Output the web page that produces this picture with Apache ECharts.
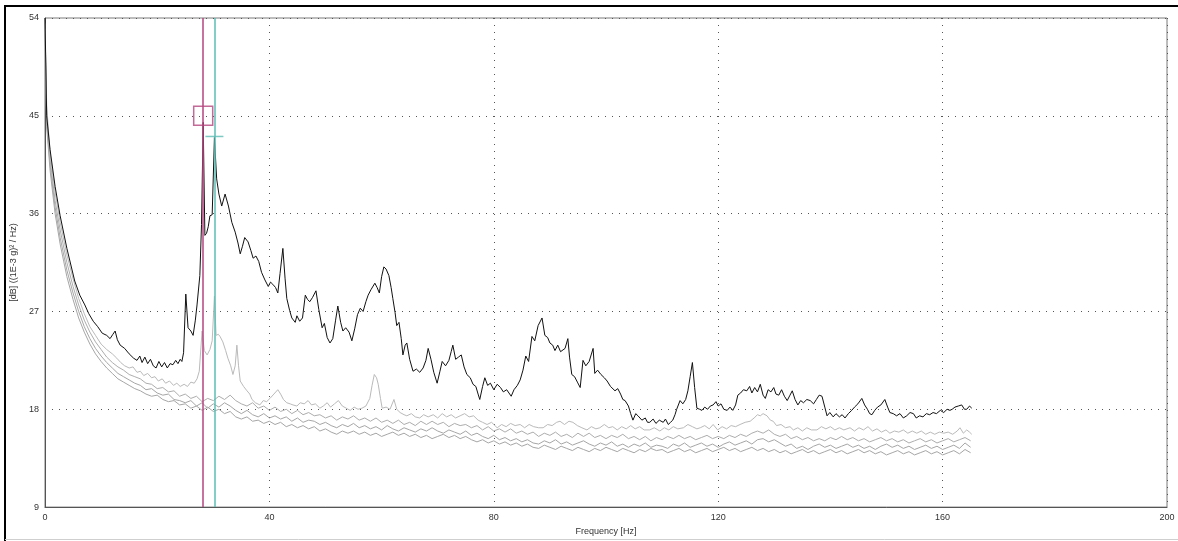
<!DOCTYPE html>
<html>
<head>
<meta charset="utf-8">
<script src="https://cdn.jsdelivr.net/npm/echarts@6/dist/echarts.min.js"></script>
<style>
  html, body { margin: 0; padding: 0; background: #fff; }
  #chart { width: 1178px; height: 541px; }
</style>
</head>
<body>
<div id="chart"></div>
<script>
// Power spectral density traces, [frequency Hz, level dB]
const activeTrace = [
  [0,54],[0.3,45],[0.9,41.9],[1.8,38.5],[2.7,35.8],[3.9,32.8],[5.3,29.8],[6.2,28.5],[7.1,27.6],[7.8,26.8],
  [8.6,26.1],[9.4,25.6],[10.2,25.0],[11.0,24.8],[11.6,24.5],[12.1,24.9],[12.5,25.2],[12.9,24.4],[13.4,23.9],[14.2,23.6],
  [15.0,23.1],[15.8,22.7],[16.4,22.5],[16.9,22.9],[17.3,22.3],[17.8,22.8],[18.3,22.2],[18.8,22.6],[19.3,22.0],[19.8,21.8],
  [20.3,22.4],[20.8,21.9],[21.3,22.3],[21.8,21.8],[22.3,22.2],[22.8,22.1],[23.3,22.5],[23.7,22.2],[24.1,22.6],[24.4,22.4],
  [24.7,23.2],[25.1,28.6],[25.5,25.5],[26.0,25.2],[26.4,24.8],[26.8,26.2],[27.1,27.6],[27.6,30.3],[27.9,35.0],[28.2,44.4],
  [28.5,34.0],[28.8,34.2],[29.1,34.8],[29.4,35.8],[29.8,35.9],[30.2,43.0],[30.6,39.2],[31.0,37.8],[31.5,36.7],[32.1,37.8],
  [32.7,36.7],[33.3,35.2],[33.9,34.3],[34.4,33.3],[34.8,32.3],[35.2,33.0],[35.6,33.8],[36.2,33.4],[36.7,32.6],[37.1,31.9],
  [37.6,32.1],[38.1,31.6],[38.6,30.6],[39.2,29.9],[39.8,29.3],[40.2,29.7],[40.6,29.5],[41.1,29.2],[41.5,28.7],[41.9,30.5],
  [42.4,32.8],[42.8,30.0],[43.1,28.2],[43.6,27.1],[44.0,26.4],[44.6,26.0],[44.9,26.6],[45.4,26.1],[45.9,26.4],[46.4,28.5],
  [46.8,28.1],[47.2,27.9],[47.7,28.3],[48.3,28.9],[48.8,27.2],[49.4,25.5],[49.8,25.9],[50.3,24.6],[50.8,24.1],[51.3,24.5],
  [51.8,26.2],[52.2,27.5],[52.7,26.0],[53.1,25.2],[53.6,25.5],[54.2,25.1],[54.7,24.3],[55.2,25.4],[55.7,26.7],[56.2,27.3],
  [56.7,27.0],[57.2,27.9],[57.6,28.5],[58.1,29.0],[58.8,29.6],[59.2,29.2],[59.6,28.7],[60.0,30.2],[60.4,31.1],[60.8,30.9],
  [61.3,30.3],[61.7,29.2],[62.0,28.2],[62.4,26.9],[62.7,25.7],[63.1,26.0],[63.5,24.5],[63.8,23.0],[64.2,23.9],[64.5,24.1],
  [65.0,22.6],[65.6,21.5],[66.2,21.7],[66.8,21.4],[67.4,21.8],[67.9,22.5],[68.3,23.6],[68.8,22.6],[69.3,21.4],[69.9,20.4],
  [70.4,21.5],[70.8,22.4],[71.4,22.0],[72.0,22.5],[72.4,23.3],[72.7,23.9],[73.2,22.6],[73.7,22.8],[74.2,23.0],[74.7,21.9],
  [75.2,21.2],[75.8,20.9],[76.3,20.3],[76.8,20.1],[77.2,19.4],[77.5,18.9],[78.0,20.1],[78.4,20.9],[78.9,20.2],[79.4,20.4],
  [80.0,19.8],[80.6,20.3],[81.2,20.0],[81.7,19.6],[82.3,19.8],[83.1,19.2],[83.6,19.8],[84.2,20.2],[84.7,20.7],[85.2,21.6],
  [85.7,22.9],[86.2,22.4],[86.8,24.7],[87.3,24.3],[87.9,25.7],[88.6,26.4],[89.1,24.8],[89.6,24.6],[90.0,24.1],[90.5,23.9],
  [90.9,23.4],[91.4,23.9],[91.9,23.3],[92.7,23.6],[93.2,24.5],[93.5,22.8],[93.9,21.2],[94.4,21.0],[94.9,20.5],[95.4,20.0],
  [95.9,22.5],[96.4,22.0],[97.0,22.4],[97.7,23.6],[98.0,21.3],[98.5,21.6],[99.1,21.2],[99.7,20.9],[100.2,20.6],[100.8,20.1],
  [101.6,19.7],[102.1,19.9],[102.6,19.4],[103.0,18.9],[103.4,18.8],[104.0,18.3],[104.4,17.6],[104.8,17.0],[105.3,17.6],[105.7,17.4],
  [106.4,17.0],[107.0,17.2],[107.4,16.8],[107.8,16.8],[108.4,17.1],[108.9,16.7],[109.5,17.0],[110.2,16.8],[110.6,17.1],[111.1,16.6],
  [111.5,16.8],[111.9,17.0],[112.3,17.5],[112.6,18.0],[113.2,18.8],[113.7,18.5],[114.2,18.9],[114.6,19.7],[115.0,21.0],[115.4,22.3],
  [115.8,20.0],[116.2,18.1],[116.7,18.0],[117.1,17.9],[117.6,18.2],[118.1,18.0],[118.6,18.3],[119.1,18.4],[119.6,18.7],[120.0,18.3],
  [120.5,18.5],[121.0,18.0],[121.6,17.9],[122.1,18.2],[122.6,17.9],[123.1,18.4],[123.5,19.3],[124.0,19.5],[124.5,19.8],[125.1,19.7],
  [125.6,20.1],[126.0,19.5],[126.5,20.0],[127.0,19.6],[127.5,20.3],[128.0,19.3],[128.4,19.0],[128.9,19.8],[129.4,19.6],[129.9,20.0],
  [130.3,19.4],[130.8,19.3],[131.3,19.8],[131.8,19.2],[132.3,18.8],[132.8,19.3],[133.2,19.7],[133.7,18.9],[134.2,18.4],[134.7,18.8],
  [135.2,18.6],[135.8,18.9],[136.4,18.8],[137.0,18.5],[137.5,18.9],[138.0,19.3],[138.5,19.2],[139.0,18.2],[139.4,17.4],[139.9,17.7],
  [140.5,17.3],[141.0,17.6],[141.6,17.3],[142.1,17.5],[142.6,17.2],[143.2,17.6],[143.8,17.9],[144.3,18.2],[144.9,18.5],[145.6,19.0],
  [146.1,18.4],[146.6,18.0],[147.0,17.6],[147.4,17.5],[147.9,17.9],[148.4,18.2],[149.0,18.4],[149.7,18.9],[150.2,18.2],[150.6,17.7],
  [151.2,17.6],[151.8,17.4],[152.4,17.6],[153.0,17.2],[153.6,17.4],[154.2,17.7],[154.8,17.6],[155.3,17.2],[155.9,17.4],[156.5,17.3],
  [157.1,17.6],[157.7,17.5],[158.3,17.7],[158.9,17.6],[159.6,17.9],[160.2,17.7],[160.8,18.0],[161.3,17.9],[161.7,18.0],[162.2,18.2],
  [162.8,18.3],[163.4,18.4],[163.9,18.0],[164.3,18.0],[164.8,18.3],[165.2,18.1]
];

const refTraceA = [
  [0,53],[0.3,46],[0.9,41.5],[1.8,38],[2.7,35.2],[3.9,32.2],[5.0,30.0],[6.0,28.2],[7.0,26.8],[8.0,25.6],
  [9.0,24.8],[10.0,24.0],[11.0,23.5],[12.0,23.1],[12.8,22.7],[13.5,22.3],[14.2,22.0],[15.0,21.8],[15.7,21.9],[16.4,21.4],
  [17.0,21.5],[17.6,21.1],[18.3,21.3],[19.0,20.9],[19.6,21.0],[20.2,20.6],[20.9,20.8],[21.5,20.4],[22.2,20.6],[22.9,20.2],
  [23.5,20.4],[24.1,20.1],[24.8,20.3],[25.4,20.1],[26.0,20.5],[26.6,20.4],[27.1,20.8],[27.5,21.5],[28.0,25.2],[28.4,23.4],
  [28.9,23.0],[29.4,23.5],[29.8,24.3],[30.2,28.4],[30.5,24.8],[30.9,24.9],[31.2,24.7],[31.7,24.2],[32.2,23.4],[32.6,22.7],
  [33.1,22.0],[33.5,21.2],[33.9,22.0],[34.2,23.9],[34.5,22.0],[34.8,20.6],[35.4,20.1],[36.0,19.7],[36.5,19.4],[36.9,18.9],
  [37.5,18.6],[38.3,18.4],[38.9,18.8],[39.5,18.7],[40.1,19.0],[40.8,19.4],[41.5,19.8],[42.0,19.4],[42.5,18.9],[43.1,18.6],
  [43.7,18.5],[44.2,18.4],[44.9,18.3],[45.5,18.6],[46.2,18.5],[46.9,18.8],[47.5,18.4],[48.2,18.5],[49.0,18.1],[49.6,18.3],
  [50.3,18.6],[50.9,18.2],[51.6,18.5],[52.3,18.8],[53.0,18.3],[53.7,18.1],[54.4,17.9],[55.1,18.2],[55.8,18.0],[56.5,18.1],
  [57.2,18.3],[57.9,19.0],[58.3,20.2],[58.7,21.2],[59.1,20.9],[59.4,20.3],[59.8,19.0],[60.1,18.1],[60.8,18.2],[61.5,18.0],
  [62.2,18.9],[62.7,18.0],[63.3,17.7],[64.0,17.5],[64.5,17.4],[65.3,17.6],[66.0,17.3],[66.8,17.2],[67.5,17.5],[68.3,17.3],
  [69.2,17.5],[70.0,17.2],[70.8,17.6],[71.6,17.3],[72.4,17.5],[73.2,17.2],[74.0,17.4],[74.8,17.6],[75.6,17.3],[76.4,17.4],
  [77.2,17.0],[78.0,16.8],[78.8,16.6],[79.6,16.8],[80.6,16.3],[81.4,16.6],[82.2,16.4],[83.0,16.7],[83.8,16.5],[84.7,16.6],
  [85.5,16.3],[86.3,16.6],[87.1,16.4],[88.0,16.3],[88.8,16.3],[89.6,16.6],[90.4,16.5],[91.2,16.8],[91.8,16.9],[92.6,16.6],
  [93.4,16.9],[94.1,16.8],[94.9,16.5],[95.7,16.3],[96.6,16.1],[97.4,16.4],[98.2,16.2],[98.9,16.3],[99.7,16.6],[100.5,16.3],
  [101.2,16.4],[102.0,16.1],[102.8,16.4],[103.6,16.2],[104.4,16.5],[105.2,16.2],[106.0,16.4],[106.8,16.1],[107.8,16.1],[108.6,16.3],
  [109.6,16.0],[110.4,16.3],[111.2,16.1],[112.0,16.4],[112.8,16.2],[113.8,16.3],[114.6,16.6],[115.4,16.4],[116.2,16.2],[116.8,16.3],
  [117.6,16.5],[118.4,16.2],[119.1,16.6],[119.9,16.1],[120.7,16.4],[121.5,16.2],[122.3,16.5],[123.1,16.4],[123.9,16.6],[124.8,16.8],
  [125.7,16.9],[126.4,17.2],[127.0,17.5],[127.5,17.4],[128.0,17.6],[128.7,17.4],[129.3,17.0],[129.8,16.9],[130.4,16.5],[131.2,16.6],
  [132.0,16.3],[132.8,16.4],[133.4,16.1],[134.2,16.3],[135.0,16.0],[135.8,16.3],[136.6,16.1],[137.6,16.1],[138.4,16.4],[139.2,16.2],
  [140.0,16.4],[140.8,16.1],[141.6,16.3],[142.4,16.1],[143.5,16.3],[144.3,16.0],[145.1,16.3],[145.9,16.1],[146.7,16.4],[147.5,16.0],
  [148.3,16.2],[149.1,15.9],[149.9,16.1],[150.6,15.8],[151.4,16.0],[152.2,15.9],[153.0,16.1],[153.8,15.8],[154.6,16.0],[155.4,15.8],
  [156.2,16.0],[157.0,15.7],[157.8,15.9],[158.6,15.7],[159.4,15.9],[160.2,15.8],[161.0,15.9],[161.8,15.7],[162.6,16.0],[163.1,16.3],
  [163.7,15.8],[164.3,16.1],[164.8,15.9],[165.2,15.7]
];

const refTraceB = [
  [0,53.5],[0.3,45],[0.9,41],[1.8,37.2],[2.7,34.5],[3.9,31.5],[5,29.3],[6,27.6],[7,26.2],[8,25.1],
  [9,24.2],[10,23.5],[11,22.8],[12,22.3],[13,21.9],[14,21.6],[15,21.2],[16,21.0],[17,20.8],[18,20.4],
  [19,20.3],[20,19.9],[21,20.0],[22,19.6],[23,19.7],[24,19.2],[25,19.4],[26,19.0],[27,19.2],[28,18.7],
  [29,19.0],[30,18.8],[31,19.2],[32,18.9],[33,19.3],[34,18.8],[35,18.5],[36,18.3],[37,18.6],[38,18.1],
  [39,18.3],[40,17.9],[41,18.2],[42,17.8],[43,18.0],[44,17.6],[45,17.9],[46,17.5],[47,17.7],[48,17.4],
  [49,17.5],[50,17.2],[51,17.4],[52,17.0],[53,17.3],[54,17.1],[55,17.4],[56,17.0],[57,17.2],[58,16.9],
  [59,17.2],[60,16.8],[61,17.0],[62,16.7],[63,17.0],[64,16.6],[65,16.8],[66,16.5],[67,16.9],[68,16.6],
  [69,16.9],[70,16.6],[71,16.8],[72,16.4],[73,16.7],[74,16.5],[75,16.6],[76,16.3],[77,16.5],[78,16.1],
  [79,16.4],[80,16.0],[81,16.2],[82,15.9],[83,16.2],[84,15.8],[85,16.0],[86,15.7],[87,15.9],[88,15.5],
  [89,15.8],[90,15.6],[91,15.9],[92,15.5],[93,15.7],[94,15.4],[95,15.8],[96,15.5],[97,15.8],[98,15.4],
  [99,15.6],[100,15.3],[101,15.6],[102,15.4],[103,15.7],[104,15.3],[105,15.5],[106,15.2],[107,15.5],[108,15.1],
  [109,15.4],[110,15.2],[111,15.5],[112,15.3],[113,15.6],[114,15.3],[115,15.5],[116,15.2],[117,15.4],[118,15.6],
  [119,15.3],[120,15.5],[121,15.3],[122,15.6],[123,15.4],[124,15.7],[125,15.5],[126,15.8],[127,16.0],[128,15.8],
  [129,16.1],[130,15.7],[131,15.5],[132,15.7],[133,15.3],[134,15.5],[135,15.2],[136,15.4],[137,15.1],[138,15.3],
  [139,15.1],[140,15.4],[141,15.2],[142,15.5],[143,15.2],[144,15.4],[145,15.1],[146,15.3],[147,15.0],[148,15.2],
  [149,15.4],[150,15.1],[151,15.3],[152,15.0],[153,15.2],[154,14.9],[155,15.1],[156,15.3],[157,15.0],[158,15.2],
  [159,14.9],[160,15.1],[161,15.3],[162,15.0],[163,15.2],[164,15.4],[165,15.1]
];

const refTraceC = [
  [0,53],[0.3,44.5],[0.9,40.5],[1.8,36.6],[2.7,33.8],[3.9,30.8],[5,28.7],[6,27.0],[7,25.6],[8,24.5],
  [9,23.6],[10,22.9],[11,22.3],[12,21.8],[13,21.3],[14,21.0],[15,20.7],[16,20.4],[17,20.2],[18,19.8],
  [19,19.9],[20,19.5],[21,19.3],[22,19.4],[23,18.9],[24,18.8],[25,18.6],[26,18.8],[27,18.3],[28,18.6],
  [29,18.1],[30,18.5],[31,18.2],[32,18.6],[33,18.3],[34,17.9],[35,17.6],[36,17.9],[37,17.5],[38,17.3],
  [39,17.6],[40,17.2],[41,17.4],[42,17.1],[43,17.3],[44,16.9],[45,17.2],[46,16.8],[47,17.0],[48,16.9],
  [49,16.6],[50,16.8],[51,16.5],[52,16.3],[53,16.6],[54,16.4],[55,16.7],[56,16.3],[57,16.5],[58,16.2],
  [59,16.4],[60,16.1],[61,16.5],[62,16.2],[63,16.0],[64,16.3],[65,16.1],[66,15.9],[67,16.2],[68,16.0],
  [69,16.3],[70,16.0],[71,15.8],[72,16.1],[73,15.9],[74,15.7],[75,16.0],[76,15.6],[77,15.8],[78,15.5],
  [79,15.3],[80,15.6],[81,15.2],[82,15.4],[83,15.1],[84,15.3],[85,15.0],[86,15.2],[87,14.9],[88,14.8],
  [89,15.1],[90,14.9],[91,15.2],[92,14.8],[93,15.0],[94,14.7],[95,14.9],[96,15.1],[97,14.8],[98,14.6],
  [99,14.9],[100,14.7],[101,15.0],[102,14.6],[103,14.8],[104,14.5],[105,14.8],[106,14.6],[107,14.9],[108,14.5],
  [109,14.7],[110,14.6],[111,14.4],[112,14.8],[113,14.6],[114,14.9],[115,14.5],[116,14.7],[117,14.9],[118,14.6],
  [119,14.8],[120,14.5],[121,14.8],[122,15.0],[123,14.7],[124,14.9],[125,15.1],[126,14.8],[127,15.2],[128,15.3],
  [129,15.0],[130,15.2],[131,14.9],[132,14.6],[133,14.8],[134,14.4],[135,14.6],[136,14.3],[137,14.6],[138,14.8],
  [139,14.5],[140,14.7],[141,14.4],[142,14.6],[143,14.8],[144,14.5],[145,14.7],[146,14.4],[147,14.6],[148,14.3],
  [149,14.6],[150,14.8],[151,14.5],[152,14.7],[153,14.4],[154,14.6],[155,14.3],[156,14.5],[157,14.7],[158,14.4],
  [159,14.6],[160,14.3],[161,14.5],[162,14.7],[163,14.4],[164,14.9],[165,14.5]
];

const refTraceD = [
  [0,52.5],[0.3,44],[0.9,40],[1.8,36.0],[2.7,33.2],[3.9,30.2],[5,28.1],[6,26.4],[7,25.1],[8,24.0],
  [9,23.1],[10,22.4],[11,21.8],[12,21.3],[13,20.8],[14,20.5],[15,20.2],[16,19.9],[17,19.7],[18,19.4],
  [19,19.2],[20,19.3],[21,18.9],[22,18.7],[23,18.8],[24,18.4],[25,18.5],[26,18.1],[27,18.3],[28,17.9],
  [29,18.2],[30,17.8],[31,18.0],[32,17.6],[33,17.8],[34,17.3],[35,17.1],[36,17.3],[37,16.9],[38,17.0],
  [39,16.7],[40,16.9],[41,16.6],[42,16.8],[43,16.4],[44,16.6],[45,16.3],[46,16.5],[47,16.2],[48,16.4],
  [49,16.0],[50,16.2],[51,15.9],[52,15.7],[53,16.0],[54,15.8],[55,16.0],[56,15.7],[57,15.9],[58,15.6],
  [59,15.8],[60,15.5],[61,15.7],[62,15.9],[63,15.6],[64,15.8],[65,15.5],[66,15.7],[67,15.4],[68,15.6],
  [69,15.3],[70,15.5],[71,15.7],[72,15.4],[73,15.6],[74,15.3],[75,15.5],[76,15.2],[77,15.0],[78,15.2],
  [79,14.9],[80,15.1],[81,14.8],[82,15.0],[83,14.7],[84,14.9],[85,14.6],[86,14.8],[87,14.5],[88,14.4],
  [89,14.7],[90,14.5],[91,14.3],[92,14.6],[93,14.4],[94,14.2],[95,14.5],[96,14.3],[97,14.1],[98,14.4],
  [99,14.2],[100,14.5],[101,14.3],[102,14.1],[103,14.4],[104,14.2],[105,14.0],[106,14.3],[107,14.1],[108,14.4],
  [109,14.2],[110,14.3],[111,14.0],[112,14.2],[113,14.4],[114,14.1],[115,14.3],[116,14.0],[117,14.2],[118,14.4],
  [119,14.1],[120,14.3],[121,14.5],[122,14.2],[123,14.4],[124,14.1],[125,14.3],[126,14.5],[127,14.2],[128,14.4],
  [129,14.1],[130,14.3],[131,14.0],[132,14.2],[133,13.9],[134,14.1],[135,14.3],[136,14.0],[137,14.2],[138,13.9],
  [139,14.1],[140,14.3],[141,14.0],[142,14.2],[143,13.9],[144,14.1],[145,14.3],[146,14.0],[147,14.2],[148,13.9],
  [149,14.1],[150,13.8],[151,14.0],[152,14.2],[153,13.9],[154,14.1],[155,13.8],[156,14.0],[157,14.2],[158,13.9],
  [159,14.1],[160,13.8],[161,14.0],[162,14.2],[163,13.9],[164,14.3],[165,14.0]
];

// Cursor positions (Hz) and the marker levels (dB) shown at each cursor
const cursorMainFreq = 28.2;
const cursorMainLevel = 45;
const cursorSecondFreq = 30.2;
const cursorSecondLevel = 43.1;

// Axis ranges: [min, max, step]
const freqRange = [0, 200, 40];
const levelRange = [9, 54, 9];

const FONT = '"Liberation Sans", Arial, sans-serif';
const MAGENTA = '#b5457f';
const TEAL = '#5cbcb4';

const chart = echarts.init(document.getElementById('chart'), null, { renderer: 'canvas' });

const dotted = { color: '#555', width: 1, type: [1, 6] };

const greyLine = (data, color) => ({
  type: 'line', data, showSymbol: false, symbol: 'none', silent: true,
  lineStyle: { color, width: 1 }, z: 2, animation: false
});

chart.setOption({
  animation: false,
  backgroundColor: '#fff',
  grid: { left: 45, right: 11, top: 18, bottom: 31, show: true, borderColor: '#7a7a7a', borderWidth: 1 },
  xAxis: {
    type: 'value', min: freqRange[0], max: freqRange[1], interval: freqRange[2],
    name: 'Frequency [Hz]', nameLocation: 'middle', nameGap: 16,
    nameTextStyle: { fontFamily: FONT, fontSize: 9, color: '#333' },
    axisLine: { show: true, lineStyle: { color: '#555', width: 1 } },
    axisTick: { show: false },
    axisLabel: { fontFamily: FONT, fontSize: 9, color: '#333', margin: 6 },
    splitLine: { show: true, lineStyle: dotted }
  },
  yAxis: {
    type: 'value', min: levelRange[0], max: levelRange[1], interval: levelRange[2],
    name: '[dB] ((1E-3 g)² / Hz)', nameLocation: 'middle', nameGap: 25, nameRotate: 90,
    nameTextStyle: { fontFamily: FONT, fontSize: 9, color: '#333' },
    axisLine: { show: true, lineStyle: { color: '#555', width: 1 } },
    axisTick: { show: false },
    axisLabel: { fontFamily: FONT, fontSize: 9, color: '#333', margin: 6 },
    splitLine: { show: true, lineStyle: dotted }
  },
  graphic: [
    { type: 'line', shape: { x1: 4, y1: 6, x2: 1178, y2: 6 }, style: { stroke: '#000', lineWidth: 2 }, silent: true },
    { type: 'line', shape: { x1: 5, y1: 5, x2: 5, y2: 541 }, style: { stroke: '#000', lineWidth: 2 }, silent: true },
    { type: 'line', shape: { x1: 5, y1: 539.5, x2: 1178, y2: 539.5 }, style: { stroke: '#cfcfcf', lineWidth: 1 }, silent: true }
  ],
  series: [
    greyLine(refTraceD, '#a6a6a6'),
    greyLine(refTraceC, '#a6a6a6'),
    greyLine(refTraceB, '#adadad'),
    greyLine(refTraceA, '#bababa'),
    {
      // cursor lines
      type: 'line', data: [], silent: true, z: 3,
      markLine: {
        silent: true, symbol: 'none', animation: false,
        label: { show: false },
        data: [
          { xAxis: cursorMainFreq, lineStyle: { color: MAGENTA, width: 1.5, type: 'solid' } },
          { xAxis: cursorSecondFreq, lineStyle: { color: TEAL, width: 1.5, type: 'solid' } }
        ]
      }
    },
    {
      type: 'line', data: activeTrace, showSymbol: false, symbol: 'none', silent: true,
      lineStyle: { color: '#111', width: 1 }, z: 4
    },
    {
      // cursor markers
      type: 'scatter', silent: true, z: 5,
      data: [
        { value: [cursorMainFreq, cursorMainLevel], symbol: 'rect', symbolSize: 19,
          itemStyle: { color: 'rgba(0,0,0,0)', borderColor: MAGENTA, borderWidth: 1.5 } },
        { value: [cursorSecondFreq, cursorSecondLevel], symbol: 'rect', symbolSize: [18, 1.5],
          itemStyle: { color: TEAL } }
      ]
    }
  ]
});
</script>
</body>
</html>
